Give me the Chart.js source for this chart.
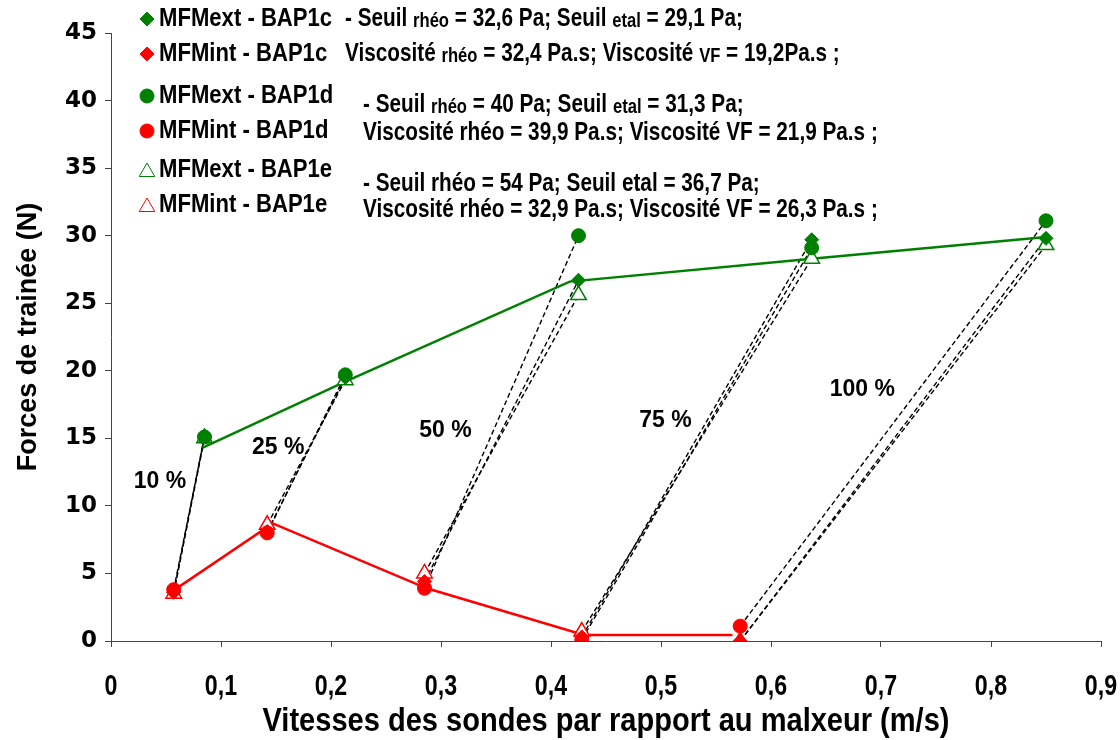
<!DOCTYPE html>
<html lang="fr">
<head>
<meta charset="UTF-8">
<title>Forces de trainée</title>
<script src="https://cdn.jsdelivr.net/npm/chart.js"></script>
<style>
  body { margin: 0; background: #fff; }
</style>
</head>
<body>
<canvas id="chart" width="1120" height="740"></canvas>
<script>
// vitesses des sondes (m/s) pour 10, 25, 50, 75, 100 %
const vitesseInt = [0.057, 0.142, 0.285, 0.428, 0.572];
const vitesseExt = [0.085, 0.213, 0.425, 0.637, 0.850];
const pourcentages = ['10 %', '25 %', '50 %', '75 %', '100 %'];

// forces de trainée (N)
const extC = [15.2, 19.5, 26.7, 29.7, 29.8];
const intC = [3.6, 8.1, 4.4, 0.3, 0.0];
const extD = [15.1, 19.7, 30.0, 29.1, 31.1];
const intD = [3.8, 8.0, 3.9, 0.1, 1.1];
const extE = [15.0, 19.3, 25.6, 28.3, 29.3];
const intE = [3.5, 8.6, 5.0, 0.7, 0.0];

// courbes continues
const courbeExtX = [0.083, 0.213, 0.417, 0.637, 0.850];
const courbeExtY = [14.3, 19.2, 26.6, 28.3, 29.9];
const courbeIntX = [0.058, 0.147, 0.287, 0.430, 0.565];
const courbeIntY = [3.8, 8.7, 3.9, 0.45, 0.45];

// ticks
const xTicks = [0, 0.1, 0.2, 0.3, 0.4, 0.5, 0.6, 0.7, 0.8, 0.9];
const yTicks = [0, 5, 10, 15, 20, 25, 30, 35, 40, 45];

const VERT = '#008000';
const ROUGE = '#ff0000';
const FONT = "'Liberation Sans', Arial, sans-serif";
const titreX = 'Vitesses des sondes par rapport au malxeur (m/s)';

const pts = (xs, ys) => xs.map((x, i) => ({ x: x, y: ys[i] }));
const fmtX = v => v === 0 ? '0' : (Math.round(v * 10) / 10).toString().replace('.', ',');

// position des étiquettes de pourcentage (coordonnées des axes)
const pctPos = [[0.0445, 11.8], [0.152, 14.3], [0.304, 15.6], [0.504, 16.3], [0.683, 18.6]];

function serie(label, data, color, style, hollow) {
    return {
        label: label,
        data: data,
        showLine: false,
        pointStyle: style,
        pointRadius: style === 'triangle' ? 9 : 7,
        pointBackgroundColor: hollow ? '#fff' : color,
        pointBorderColor: color,
        pointBorderWidth: hollow ? 1.5 : 1,
        order: 0
    };
}

const datasets = [
    serie('MFMext - BAP1c', pts(vitesseExt, extC), VERT, 'rectRot', false),
    serie('MFMint - BAP1c', pts(vitesseInt, intC), ROUGE, 'rectRot', false),
    serie('MFMext - BAP1d', pts(vitesseExt, extD), VERT, 'circle', false),
    serie('MFMint - BAP1d', pts(vitesseInt, intD), ROUGE, 'circle', false),
    serie('MFMext - BAP1e', pts(vitesseExt, extE), VERT, 'triangle', true),
    serie('MFMint - BAP1e', pts(vitesseInt, intE), ROUGE, 'triangle', true),
    { label: 'courbe ext', data: pts(courbeExtX, courbeExtY), showLine: true, borderColor: VERT,
      borderWidth: 2.5, pointRadius: 0, order: 1 },
    { label: 'courbe int', data: pts(courbeIntX, courbeIntY), showLine: true, borderColor: ROUGE,
      borderWidth: 2.5, pointRadius: 0, order: 1 }
];

// traits pointillés int -> ext pour chaque béton
[[intC, extC], [intD, extD], [intE, extE]].forEach(([fi, fe]) => {
    vitesseInt.forEach((v, i) => {
        datasets.push({
            label: 'lien',
            data: [{ x: v, y: fi[i] }, { x: vitesseExt[i], y: fe[i] }],
            showLine: true, borderColor: '#000', borderWidth: 1.4,
            borderDash: [5, 3], pointRadius: 0, order: 2
        });
    });
});

const legendItems = [
    ['MFMext - BAP1c', 'rectRot', VERT, false, 19],
    ['MFMint - BAP1c', 'rectRot', ROUGE, false, 54],
    ['MFMext - BAP1d', 'circle', VERT, false, 96],
    ['MFMint - BAP1d', 'circle', ROUGE, false, 131],
    ['MFMext - BAP1e', 'triangle', VERT, true, 170],
    ['MFMint - BAP1e', 'triangle', ROUGE, true, 205]
];

// texte avec indices plus petits : [texte, petit?]
const notes = [
    [345, 19, [['- Seuil ', 0], ['rhéo', 1], [' = 32,6 Pa; Seuil ', 0], ['etal', 1], [' = 29,1 Pa;', 0]]],
    [345, 54, [['Viscosité ', 0], ['rhéo', 1], [' = 32,4 Pa.s; Viscosité ', 0], ['VF', 1], [' = 19,2Pa.s ;', 0]]],
    [363, 105, [['- Seuil ', 0], ['rhéo', 1], [' = 40 Pa; Seuil ', 0], ['etal', 1], [' = 31,3 Pa;', 0]]],
    [363, 133, [['Viscosité rhéo = 39,9 Pa.s; Viscosité VF = 21,9 Pa.s ;', 0]]],
    [363, 184, [['- Seuil rhéo = 54 Pa; Seuil etal = 36,7 Pa;', 0]]],
    [363, 210, [['Viscosité rhéo = 32,9 Pa.s; Viscosité VF = 26,3 Pa.s ;', 0]]]
];

// texte bold étroit (étiré verticalement comme dans l'original)
function etroit(ctx, t, x, y, size, sx, align) {
    ctx.save();
    ctx.font = 'bold ' + size + 'px ' + FONT;
    ctx.textAlign = align || 'left';
    ctx.textBaseline = 'middle';
    ctx.translate(x, y);
    ctx.scale(sx, 1);
    ctx.fillText(t, 0, 0);
    const w = ctx.measureText(t).width * sx;
    ctx.restore();
    return w;
}

const annotations = {
    id: 'annotations',
    afterDraw(chart) {
        const ctx = chart.ctx;
        const xs = chart.scales.x, ys = chart.scales.y;
        ctx.save();
        ctx.fillStyle = '#000';
        // pourcentages
        ctx.font = 'bold 23px ' + FONT;
        ctx.textAlign = 'center';
        ctx.textBaseline = 'middle';
        pourcentages.forEach((t, i) => {
            ctx.fillText(t, xs.getPixelForValue(pctPos[i][0]), ys.getPixelForValue(pctPos[i][1]));
        });
        // étiquettes et titre de l'axe x
        xTicks.forEach(v => etroit(ctx, fmtX(v), xs.getPixelForValue(v), 687, 29, 0.8, 'center'));
        etroit(ctx, titreX, (xs.left + xs.right) / 2, 722, 33, 0.88, 'center');
        // légende
        legendItems.forEach(([t, style, color, hollow, y]) => {
            ctx.fillStyle = hollow ? '#fff' : color;
            ctx.strokeStyle = color;
            Chart.helpers.drawPoint(ctx, { pointStyle: style, radius: style === 'triangle' ? 9 : 7,
                borderWidth: hollow ? 1.5 : 1, rotation: 0 }, 147, y + (style === 'triangle' ? 2 : 0));
            ctx.fillStyle = '#000';
            etroit(ctx, t, 159, y, 26, 0.85);
        });
        // notes
        notes.forEach(([x0, y, parts]) => {
            let x = x0;
            parts.forEach(([t, small]) => {
                x += etroit(ctx, t, x, y + (small ? 2 : 0), small ? 20 : 25, 0.83);
            });
        });
        ctx.restore();
    }
};

new Chart(document.getElementById('chart'), {
    type: 'scatter',
    data: { datasets: datasets },
    options: {
        responsive: false,
        animation: false,
        layout: { padding: { top: 33, right: 19, left: 0, bottom: 0 } },
        plugins: { legend: { display: false }, tooltip: { enabled: false } },
        scales: {
            x: {
                type: 'linear', min: 0, max: 0.9,
                afterFit(s) { s.height = 99; s.paddingLeft = 0; s.paddingRight = 0; },
                afterBuildTicks(s) { s.ticks = xTicks.map(v => ({ value: v })); },
                grid: { drawOnChartArea: false, drawTicks: true, tickLength: 6, color: '#444' },
                border: { color: '#444', width: 1 },
                ticks: { display: false }
            },
            y: {
                type: 'linear', min: 0, max: 45,
                afterFit(s) { s.width = 111; s.paddingTop = 0; s.paddingBottom = 0; },
                afterBuildTicks(s) { s.ticks = yTicks.map(v => ({ value: v })); },
                grid: { drawOnChartArea: false, drawTicks: true, tickLength: 6, color: '#444' },
                border: { color: '#444', width: 1 },
                ticks: { color: '#000', padding: 8, font: { family: "'DejaVu Sans', sans-serif", size: 23, weight: 'bold' } },
                title: {
                    display: true, text: 'Forces de trainée (N)', color: '#000',
                    font: { family: FONT, size: 27, weight: 'bold', lineHeight: 1.2 }, padding: { top: 12, bottom: 0 }
                }
            }
        }
    },
    plugins: [annotations]
});
</script>
</body>
</html>
